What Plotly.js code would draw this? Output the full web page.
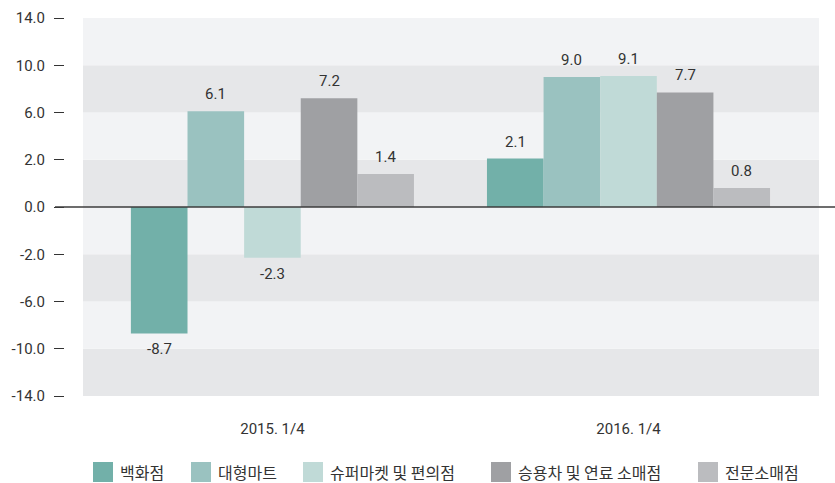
<!DOCTYPE html>
<html>
<head>
<meta charset="utf-8">
<script src="https://cdn.plot.ly/plotly-3.0.1.min.js"></script>
<style>
  html, body { margin: 0; padding: 0; background: #fff; }
  #chart { width: 835px; height: 483px; }
</style>
</head>
<body>
<div id="chart"></div>
<script>
// ---- data ----
const categories = ["2015. 1/4", "2016. 1/4"];
const seriesNames = ["백화점", "대형마트", "슈퍼마켓 및 편의점", "승용차 및 연료 소매점", "전문소매점"];
const deptStore = [-8.7, 2.1];
const hyperMart = [6.1, 9.0];
const superConv = [-2.3, 9.1];
const autoFuel = [7.2, 7.7];
const specialty = [1.4, 0.8];
const tickValues = [-14, -10, -6, -2, 0, 2, 6, 10, 14];
const tickLabels = ["-14.0", "-10.0", "-6.0", "-2.0", "0.0", "2.0", "6.0", "10.0", "14.0"];

const seriesValues = [deptStore, hyperMart, superConv, autoFuel, specialty];
const colors = ["#72b0a9", "#9ac2c0", "#c0dad7", "#9fa0a3", "#bbbcbf"];

// The original chart's value axis is piecewise linear between its tick labels.
const mid = tickValues.indexOf(0);
function toPos(v) {
  for (let i = 0; i < tickValues.length - 1; i++) {
    const a = tickValues[i], b = tickValues[i + 1];
    if (v >= a && v <= b) return (i - mid) + (v - a) / (b - a);
  }
  return v < 0 ? -mid : tickValues.length - 1 - mid;
}

// ---- layout geometry ----
const W = 835, H = 483;
const mL = 64, mR = 16, mT = 18, mB = 87;
const pw = W - mL - mR, ph = H - mT - mB;
const px = x => (x - mL) / pw;
const py = y => (H - mB - y) / ph;
const xStart = px(83);

const bargap = 0.205;
const nS = seriesValues.length;
const barW = (1 - bargap) / nS;

const numFont = "Roboto, 'DejaVu Sans', sans-serif";
const korFont = "'Noto Sans CJK KR', 'Noto Sans', sans-serif";

const traces = seriesValues.map((vals, j) => ({
  type: "bar",
  name: seriesNames[j],
  x: categories,
  y: vals.map(toPos),
  marker: { color: colors[j], line: { width: 0 } },
  hoverinfo: "skip",
  showlegend: false
}));

const shapes = [];
// alternating bands
for (let k = 0; k < tickValues.length - 1; k++) {
  const y0 = k - mid, y1 = k + 1 - mid;
  shapes.push({
    type: "rect", layer: "below", xref: "paper", yref: "y",
    x0: xStart, x1: 1, y0: y0, y1: y1,
    fillcolor: (k % 2 === 0) ? "#e6e7e9" : "#f2f3f5",
    line: { width: 0 }
  });
}
// zero line
shapes.push({
  type: "line", layer: "above", xref: "paper", yref: "y",
  x0: px(55), x1: px(835), y0: 0, y1: 0,
  line: { color: "#3c3c3c", width: 1.5 }
});

const annotations = [];
seriesValues.forEach((vals, j) => {
  vals.forEach((v, i) => {
    annotations.push({
      x: i + (j - (nS - 1) / 2) * barW,
      y: toPos(v),
      xref: "x", yref: "y",
      text: v.toFixed(1),
      showarrow: false,
      xanchor: "center", yanchor: "middle",
      yshift: v >= 0 ? 17 : -16,
      font: { family: numFont, size: 15, color: "#333333" }
    });
  });
});

// manual legend
const legendX = [93, 191, 303, 491, 698];
const legendY = 472;
const sq = 20;
seriesNames.forEach((name, j) => {
  const x0 = legendX[j];
  shapes.push({
    type: "rect", xref: "paper", yref: "paper",
    x0: px(x0), x1: px(x0 + sq), y0: py(legendY + sq / 2), y1: py(legendY - sq / 2),
    fillcolor: colors[j], line: { width: 0 }
  });
  annotations.push({
    xref: "paper", yref: "paper",
    x: px(x0 + sq + 5), y: py(legendY),
    xanchor: "left", yanchor: "middle",
    text: name, showarrow: false,
    font: { family: korFont, size: 16, color: "#333333" }
  });
});

const layout = {
  width: W, height: H,
  margin: { l: mL, r: mR, t: mT, b: mB, pad: 0 },
  paper_bgcolor: "#ffffff",
  plot_bgcolor: "rgba(0,0,0,0)",
  barmode: "group",
  bargap: bargap,
  bargroupgap: 0,
  showlegend: false,
  xaxis: {
    type: "category",
    domain: [xStart, 1],
    anchor: "y",
    range: [-0.532, 1.535],
    showgrid: false, zeroline: false, showline: false,
    ticks: "",
    ticklabelstandoff: 22,
    tickfont: { family: numFont, size: 15, color: "#333333" },
    fixedrange: true
  },
  yaxis: {
    anchor: "free",
    position: 0,
    range: [-mid, tickValues.length - 1 - mid],
    tickmode: "array",
    tickvals: tickValues.map(toPos),
    ticktext: tickLabels,
    ticks: "outside",
    ticklen: 10,
    tickwidth: 1,
    tickcolor: "#333333",
    ticklabelstandoff: 6,
    showgrid: false, zeroline: false, showline: false,
    tickfont: { family: numFont, size: 15, color: "#333333" },
    fixedrange: true
  },
  shapes: shapes,
  annotations: annotations
};

Plotly.newPlot("chart", traces, layout, { displayModeBar: false, staticPlot: true });
</script>
</body>
</html>
